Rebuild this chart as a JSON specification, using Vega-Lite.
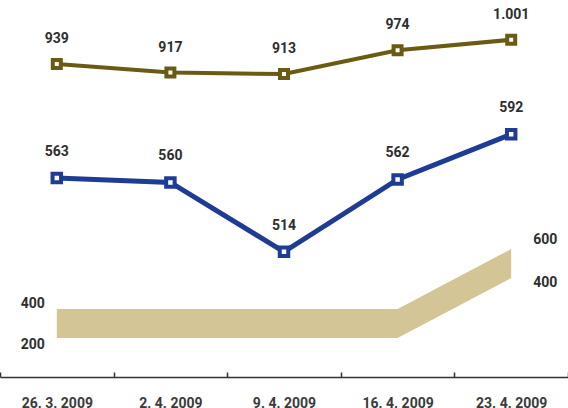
{
  "$schema": "https://vega.github.io/schema/vega-lite/v6.json",
  "width": 568,
  "height": 377,
  "autosize": {"type": "none"},
  "padding": {"left": 0, "right": 0, "top": 0, "bottom": 31},
  "background": "white",
  "config": {
    "view": {"stroke": null},
    "locale": {"number": {"decimal": ",", "thousands": ".", "grouping": [3], "currency": ["", ""]}},
    "text": {"font": "Roboto", "fontWeight": "bold", "fontSize": 14, "color": "#2e2e2e"}
  },
  "data": {
    "values": [
      {"d": "26. 3. 2009", "olive": 939, "blue": 563, "hi": 400, "lo": 200},
      {"d": "2. 4. 2009", "olive": 917, "blue": 560, "hi": 400, "lo": 200},
      {"d": "9. 4. 2009", "olive": 913, "blue": 514, "hi": 400, "lo": 200},
      {"d": "16. 4. 2009", "olive": 974, "blue": 562, "hi": 400, "lo": 200},
      {"d": "23. 4. 2009", "olive": 1001, "blue": 592, "hi": 600, "lo": 400}
    ]
  },
  "encoding": {
    "x": {
      "field": "d", "type": "ordinal", "sort": null,
      "scale": {"type": "band", "paddingInner": 0, "paddingOuter": 0},
      "axis": {
        "title": null, "labelAngle": 0, "tickBand": "extent",
        "domainColor": "#333333", "domainWidth": 1.5,
        "tickColor": "#333333", "tickWidth": 1.5, "tickSize": -5,
        "labelPadding": 24, "labelBaseline": "top",
        "labelFont": "Roboto", "labelFontWeight": "bold", "labelFontSize": 14, "labelColor": "#3a3a3a"
      }
    }
  },
  "layer": [
    {
      "mark": {"type": "area", "color": "#d4c596", "opacity": 1, "y2Offset": 29},
      "encoding": {
        "y": {"field": "hi", "type": "quantitative", "scale": {"domain": [173.3, 1430], "nice": false, "zero": false}, "axis": null},
        "y2": {"field": "hi"}
      }
    },
    {
      "transform": [{"filter": "datum.d == '26. 3. 2009'"}],
      "mark": {"type": "text", "dx": -24, "dy": -5, "fontSize": 14},
      "encoding": {
        "y": {"field": "hi", "type": "quantitative", "scale": {"domain": [173.3, 1430], "nice": false, "zero": false}, "axis": null},
        "text": {"field": "hi", "type": "quantitative", "format": ",d"}
      }
    },
    {
      "transform": [{"filter": "datum.d == '26. 3. 2009'"}],
      "mark": {"type": "text", "dx": -24, "dy": 36, "fontSize": 14},
      "encoding": {
        "y": {"field": "hi", "type": "quantitative", "scale": {"domain": [173.3, 1430], "nice": false, "zero": false}, "axis": null},
        "text": {"field": "lo", "type": "quantitative", "format": ",d"}
      }
    },
    {
      "transform": [{"filter": "datum.d == '23. 4. 2009'"}],
      "mark": {"type": "text", "dx": 34, "dy": -9, "fontSize": 14},
      "encoding": {
        "y": {"field": "hi", "type": "quantitative", "scale": {"domain": [173.3, 1430], "nice": false, "zero": false}, "axis": null},
        "text": {"field": "hi", "type": "quantitative", "format": ",d"}
      }
    },
    {
      "transform": [{"filter": "datum.d == '23. 4. 2009'"}],
      "mark": {"type": "text", "dx": 34, "dy": 34, "fontSize": 14},
      "encoding": {
        "y": {"field": "hi", "type": "quantitative", "scale": {"domain": [173.3, 1430], "nice": false, "zero": false}, "axis": null},
        "text": {"field": "lo", "type": "quantitative", "format": ",d"}
      }
    },
    {
      "mark": {"type": "line", "color": "#6b5b12", "strokeWidth": 4},
      "encoding": {"y": {"field": "olive", "type": "quantitative", "scale": {"domain": [136, 1103], "nice": false, "zero": false}, "axis": null}}
    },
    {
      "mark": {"type": "point", "shape": "square", "filled": true, "fill": "#ffffff", "stroke": "#6b5b12", "strokeWidth": 4, "size": 64, "opacity": 1},
      "encoding": {"y": {"field": "olive", "type": "quantitative", "scale": {"domain": [136, 1103], "nice": false, "zero": false}, "axis": null}}
    },
    {
      "mark": {"type": "text", "dy": -25},
      "encoding": {
        "y": {"field": "olive", "type": "quantitative", "scale": {"domain": [136, 1103], "nice": false, "zero": false}, "axis": null},
        "text": {"field": "olive", "type": "quantitative", "format": ",d"}
      }
    },
    {
      "mark": {"type": "line", "color": "#1f3c94", "strokeWidth": 5},
      "encoding": {"y": {"field": "blue", "type": "quantitative", "scale": {"domain": [431, 681], "nice": false, "zero": false}, "axis": null}}
    },
    {
      "mark": {"type": "point", "shape": "square", "filled": true, "fill": "#ffffff", "stroke": "#1f3c94", "strokeWidth": 4, "size": 72, "opacity": 1},
      "encoding": {"y": {"field": "blue", "type": "quantitative", "scale": {"domain": [431, 681], "nice": false, "zero": false}, "axis": null}}
    },
    {
      "mark": {"type": "text", "dy": -26},
      "encoding": {
        "y": {"field": "blue", "type": "quantitative", "scale": {"domain": [431, 681], "nice": false, "zero": false}, "axis": null},
        "text": {"field": "blue", "type": "quantitative", "format": ",d"}
      }
    }
  ],
  "resolve": {"scale": {"y": "independent"}}
}
